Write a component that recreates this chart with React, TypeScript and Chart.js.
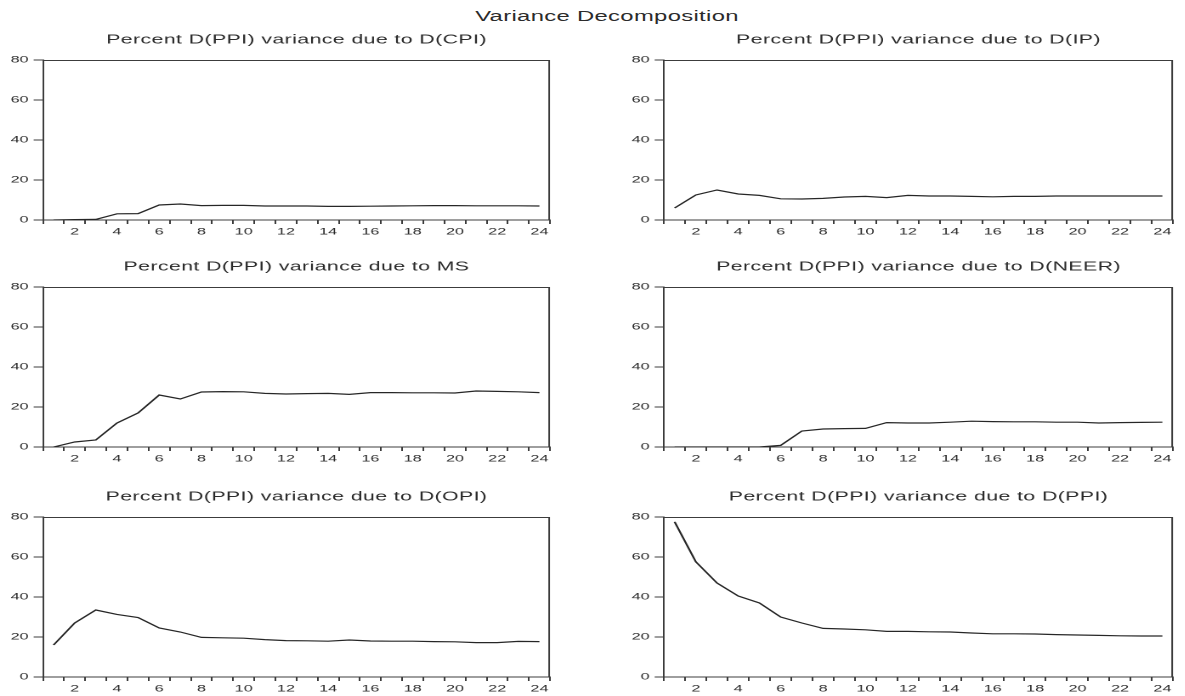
import React, { useEffect, useRef } from "react";
import { Chart, registerables } from "chart.js";

Chart.register(...registerables);

// ---------- data ----------
const periods = [1, 2, 3, 4, 5, 6, 7, 8, 9, 10, 11, 12, 13, 14, 15, 16, 17, 18, 19, 20, 21, 22, 23, 24];
const yTickValues = [0, 20, 40, 60, 80];
const mainTitle = "Variance Decomposition";

const dueToCPI = [0, 0.2, 0.3, 3.1, 3.2, 7.5, 8.0, 7.2, 7.3, 7.3, 7.0, 7.0, 7.0, 6.8, 6.8, 6.9, 7.0, 7.1, 7.2, 7.2, 7.1, 7.1, 7.1, 7.0];
const dueToIP = [6.0, 12.5, 15.0, 13.0, 12.3, 10.6, 10.5, 10.8, 11.5, 11.8, 11.2, 12.3, 12.0, 12.0, 11.8, 11.6, 11.8, 11.8, 12.0, 12.0, 12.0, 12.0, 12.0, 12.0];
const dueToMS = [0, 2.5, 3.5, 12.0, 17.0, 26.0, 24.0, 27.5, 27.7, 27.6, 26.8, 26.5, 26.7, 26.8, 26.3, 27.2, 27.2, 27.1, 27.1, 27.0, 28.0, 27.8, 27.6, 27.2];
const dueToNEER = [0, 0, 0, 0, 0, 0.8, 8.0, 9.0, 9.2, 9.3, 12.2, 12.0, 12.0, 12.4, 12.9, 12.7, 12.6, 12.6, 12.4, 12.4, 12.0, 12.2, 12.3, 12.4];
const dueToOPI = [16.0, 27.0, 33.5, 31.3, 29.7, 24.5, 22.5, 19.8, 19.6, 19.4, 18.7, 18.2, 18.1, 17.9, 18.5, 18.0, 17.9, 17.9, 17.7, 17.6, 17.2, 17.2, 17.8, 17.7];
const dueToPPI = [77.6, 57.6, 47.0, 40.5, 37.0, 30.0, 27.0, 24.3, 24.0, 23.6, 22.8, 22.8, 22.6, 22.5, 22.0, 21.6, 21.6, 21.5, 21.2, 21.0, 20.8, 20.6, 20.5, 20.5];

const panelTitles = [
  "Percent D(PPI) variance due to D(CPI)",
  "Percent D(PPI) variance due to D(IP)",
  "Percent D(PPI) variance due to MS",
  "Percent D(PPI) variance due to D(NEER)",
  "Percent D(PPI) variance due to D(OPI)",
  "Percent D(PPI) variance due to D(PPI)",
];
const panelSeries = [dueToCPI, dueToIP, dueToMS, dueToNEER, dueToOPI, dueToPPI];

// ---------- layout / style (screen pixels) ----------
const FONT = '"Liberation Sans", Arial, Helvetica, sans-serif';
const INK = "#2b2b2b";
const FRAME = "#3c3c3c";
const STRETCH = 1.7; // the original figure is stretched horizontally
const plotTops = [60, 287, 517];
const plotHeight = 160;
const colLeft = [0, 600];
const colWidth = [560, 585];
const plotLeft = [43, 664];
const plotRight = [550, 1173];
const titleSpace = 35;
const xAxisHeight = 20;

const framePlugin = {
  id: "panelFrame",
  afterDraw(chart: any) {
    const { ctx, chartArea } = chart;
    const { left, top, right, bottom } = chartArea;
    ctx.save();
    ctx.strokeStyle = FRAME;
    ctx.lineWidth = 1;
    ctx.beginPath();
    ctx.moveTo(left, top + 0.5);
    ctx.lineTo(right - 0.5, top + 0.5);
    ctx.lineTo(right - 0.5, bottom);
    ctx.stroke();
    const title = chart.options.plugins.panelFrame?.title || "";
    ctx.font = `12.5px ${FONT}`;
    ctx.letterSpacing = "0.25px";
    ctx.fillStyle = INK;
    ctx.textAlign = "center";
    ctx.textBaseline = "middle";
    ctx.fillText(title, (left + right) / 2, top - 20);
    ctx.restore();
  },
};

function Panel({ index }: { index: number }) {
  const ref = useRef<HTMLCanvasElement | null>(null);
  const col = index % 2;
  const row = Math.floor(index / 2);
  const width = Math.round(colWidth[col] / STRETCH);
  const height = titleSpace + plotHeight + xAxisHeight;
  const top = plotTops[row] - titleSpace;
  const yAxisWidth = (plotLeft[col] - colLeft[col]) / STRETCH;
  const padRight = width - (plotRight[col] - colLeft[col]) / STRETCH;

  useEffect(() => {
    if (!ref.current) return;
    const chart = new Chart(ref.current, {
      type: "line",
      data: {
        labels: periods.map(String),
        datasets: [
          {
            data: panelSeries[index],
            borderColor: "#262626",
            borderWidth: 1.2,
            pointRadius: 0,
            tension: 0,
            fill: false,
          },
        ],
      },
      plugins: [framePlugin],
      options: {
        responsive: false,
        animation: false,
        devicePixelRatio: 2,
        layout: { padding: { top: titleSpace, right: padRight, left: 0, bottom: 0 } },
        plugins: {
          legend: { display: false },
          tooltip: { enabled: false },
          panelFrame: { title: panelTitles[index] },
        } as any,
        scales: {
          x: {
            type: "category",
            offset: true,
            afterFit: (s: any) => {
              s.height = xAxisHeight;
            },
            grid: { offset: true, drawOnChartArea: false, tickLength: 4, color: FRAME },
            border: { display: true, color: FRAME, width: 1 },
            ticks: {
              autoSkip: false,
              maxRotation: 0,
              padding: 2,
              color: INK,
              font: { family: FONT, size: 9.5 },
              callback: (_v: any, i: number) => (periods[i] % 2 === 0 ? String(periods[i]) : ""),
            },
          },
          y: {
            min: 0,
            max: 80,
            afterFit: (s: any) => {
              s.width = yAxisWidth;
            },
            afterBuildTicks: (s: any) => {
              s.ticks = yTickValues.map((v) => ({ value: v }));
            },
            grid: { drawOnChartArea: false, tickLength: 5.5, color: FRAME },
            border: { display: true, color: FRAME, width: 1 },
            ticks: {
              padding: 3,
              color: INK,
              font: { family: FONT, size: 9.5 },
            },
          },
        },
      } as any,
    });
    return () => chart.destroy();
  }, [index]);

  return (
    <div
      style={{
        position: "absolute",
        left: colLeft[col],
        top,
        width,
        height,
        transform: `scaleX(${STRETCH})`,
        transformOrigin: "0 0",
      }}
    >
      <canvas ref={ref} width={width} height={height} style={{ display: "block", width, height }} />
    </div>
  );
}

export default function App() {
  return (
    <div
      style={{
        position: "absolute",
        left: 0,
        top: 0,
        width: 1185,
        height: 696,
        background: "#ffffff",
        overflow: "hidden",
      }}
    >
      <div
        style={{
          position: "absolute",
          left: 607,
          top: 8,
          transform: `translateX(-50%) scaleX(${STRETCH})`,
          fontFamily: FONT,
          fontSize: 14,
          lineHeight: "16px",
          letterSpacing: "0.2px",
          color: INK,
          whiteSpace: "nowrap",
        }}
      >
        {mainTitle}
      </div>
      {panelTitles.map((_, i) => (
        <Panel key={i} index={i} />
      ))}
    </div>
  );
}
